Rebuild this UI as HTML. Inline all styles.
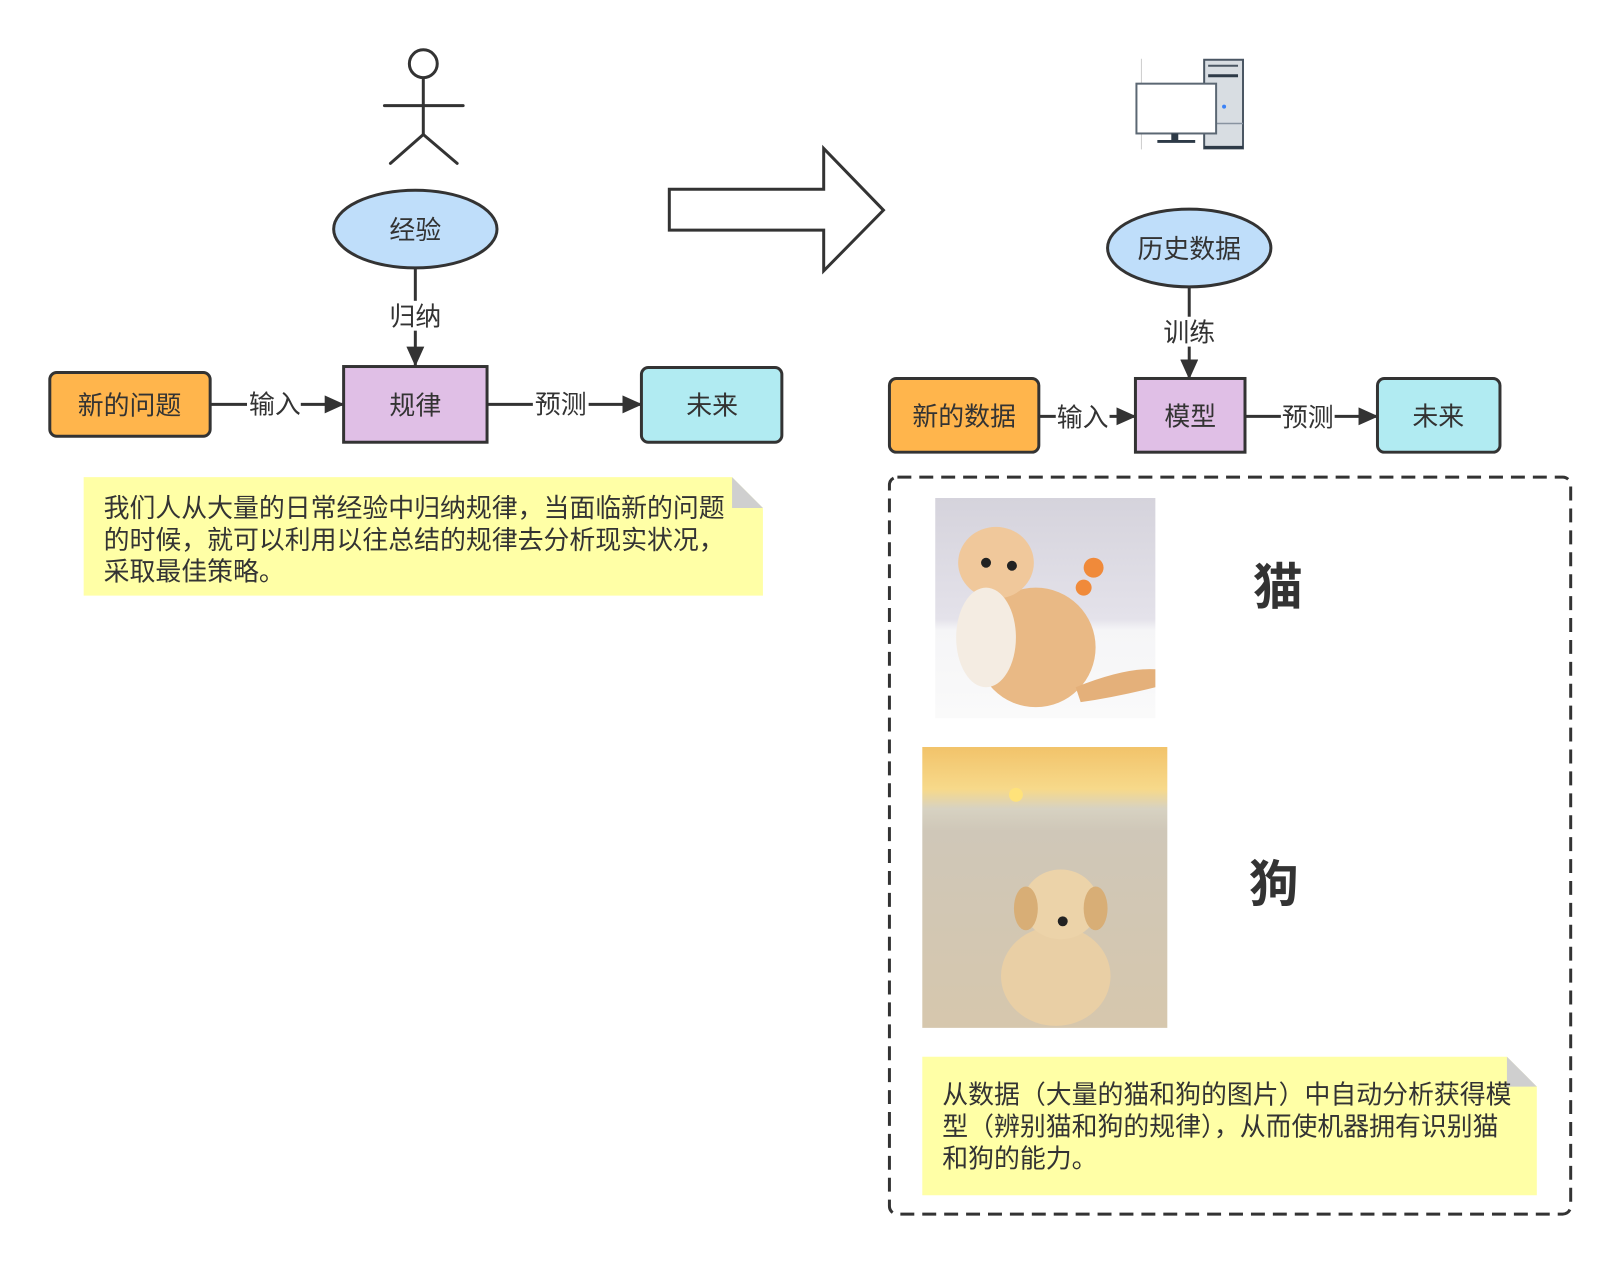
<!DOCTYPE html>
<html><head><meta charset="utf-8"><style>
body{margin:0;background:#fff;}
svg text{font-family:"Liberation Sans","Noto Sans CJK SC",sans-serif;fill:#333;}
</style></head><body>
<svg width="1619" height="1262" viewBox="0 0 1619 1262" xmlns="http://www.w3.org/2000/svg">
<defs>
<marker id="ah" markerWidth="20" markerHeight="18" refX="19" refY="9" orient="auto" markerUnits="userSpaceOnUse"><path d="M0,0 L20,9 L0,18 z" fill="#333"/></marker>
<linearGradient id="sky" x1="0" y1="0" x2="0" y2="1"><stop offset="0" stop-color="#f2c36a"/><stop offset="0.15" stop-color="#f7d98a"/><stop offset="0.22" stop-color="#d7d2c2"/><stop offset="0.3" stop-color="#cfc7b8"/><stop offset="1" stop-color="#d6c7ad"/></linearGradient>
<linearGradient id="catbg" x1="0" y1="0" x2="0" y2="1"><stop offset="0" stop-color="#d5d3dc"/><stop offset="0.55" stop-color="#e4e2ea"/><stop offset="0.6" stop-color="#f5f5f7"/><stop offset="1" stop-color="#fafafa"/></linearGradient>
</defs>
<g transform="scale(0.996)">
<g stroke="#333" stroke-width="3" fill="none" stroke-linecap="round">
<circle cx="425" cy="64" r="14"/>
<line x1="386" y1="106" x2="465" y2="106"/>
<line x1="425" y1="78" x2="425" y2="135"/>
<line x1="425" y1="135" x2="392" y2="164"/>
<line x1="425" y1="135" x2="459" y2="164"/>
</g>
<ellipse cx="417" cy="230" rx="82" ry="39" fill="#bfdefa" stroke="#333" stroke-width="3"/>
<text x="417" y="240" font-size="26" text-anchor="middle">经验</text>
<line x1="417" y1="269" x2="417" y2="367" stroke="#333" stroke-width="3" marker-end="url(#ah)"/>
<rect x="393" y="302" width="49" height="30" fill="#fff"/>
<text x="417" y="327" font-size="26" text-anchor="middle">归纳</text>
<rect x="50" y="374" width="161" height="64" rx="7" fill="#ffb54c" stroke="#333" stroke-width="3"/>
<text x="130" y="416" font-size="26" text-anchor="middle">新的问题</text>
<rect x="345" y="368" width="144" height="76" fill="#e0bfe6" stroke="#333" stroke-width="3"/>
<text x="417" y="416" font-size="26" text-anchor="middle">规律</text>
<rect x="644" y="369" width="141" height="75" rx="7" fill="#b1ebf2" stroke="#333" stroke-width="3"/>
<text x="715" y="416" font-size="26" text-anchor="middle">未来</text>
<line x1="211" y1="406" x2="345" y2="406" stroke="#333" stroke-width="3" marker-end="url(#ah)"/>
<line x1="489" y1="406" x2="644" y2="406" stroke="#333" stroke-width="3" marker-end="url(#ah)"/>
<rect x="248" y="390" width="54" height="30" fill="#fff"/>
<text x="276" y="415" font-size="26" text-anchor="middle">输入</text>
<rect x="535" y="390" width="56" height="30" fill="#fff"/>
<text x="563" y="415" font-size="26" text-anchor="middle">预测</text>
<path d="M84,479 H735 L766,510 V598 H84 z" fill="#ffffa6"/>
<path d="M735,479 L766,510 H735 z" fill="#cfcfcf"/>
<text font-size="26"><tspan x="104" y="519">我们人从大量的日常经验中归纳规律，当面临新的问题</tspan><tspan x="104" y="551">的时候，就可以利用以往总结的规律去分析现实状况，</tspan><tspan x="104" y="583">采取最佳策略。</tspan></text>
<path d="M672,190 H827 V149 L887,211 L827,272 V231 H672 z" fill="#fff" stroke="#333" stroke-width="3" stroke-linejoin="miter"/>
<g transform="translate(5,0)">
<line x1="1141" y1="59" x2="1141" y2="150" stroke="#ccc" stroke-width="1"/>
<rect x="1204" y="60" width="39" height="89" fill="#d8dde2" stroke="#4a5663" stroke-width="2"/>
<line x1="1208" y1="66" x2="1238" y2="66" stroke="#4a5663" stroke-width="2"/>
<line x1="1208" y1="76" x2="1238" y2="76" stroke="#2d3a47" stroke-width="3"/>
<line x1="1204" y1="124" x2="1243" y2="124" stroke="#8893a0" stroke-width="1.5"/>
<line x1="1204" y1="148" x2="1243" y2="148" stroke="#2d3a47" stroke-width="3"/>
<circle cx="1224" cy="107" r="2" fill="#3b82f6"/>
<rect x="1136" y="84" width="80" height="50" fill="#fff" stroke="#5b6773" stroke-width="2"/>
<rect x="1171" y="134" width="7" height="7" fill="#2d3a47"/>
<line x1="1157" y1="142" x2="1195" y2="142" stroke="#2d3a47" stroke-width="3"/>
</g>
<ellipse cx="1194" cy="249" rx="82" ry="39" fill="#bfdefa" stroke="#333" stroke-width="3"/>
<text x="1194" y="259" font-size="26" text-anchor="middle">历史数据</text>
<line x1="1194" y1="288" x2="1194" y2="380" stroke="#333" stroke-width="3" marker-end="url(#ah)"/>
<rect x="1168" y="318" width="52" height="30" fill="#fff"/>
<text x="1194" y="343" font-size="26" text-anchor="middle">训练</text>
<rect x="893" y="380" width="150" height="74" rx="7" fill="#ffb54c" stroke="#333" stroke-width="3"/>
<text x="968" y="427" font-size="26" text-anchor="middle">新的数据</text>
<rect x="1140" y="380" width="110" height="74" fill="#e0bfe6" stroke="#333" stroke-width="3"/>
<text x="1195" y="427" font-size="26" text-anchor="middle">模型</text>
<rect x="1383" y="380" width="123" height="74" rx="7" fill="#b1ebf2" stroke="#333" stroke-width="3"/>
<text x="1444" y="427" font-size="26" text-anchor="middle">未来</text>
<line x1="1043" y1="418" x2="1140" y2="418" stroke="#333" stroke-width="3" marker-end="url(#ah)"/>
<line x1="1250" y1="418" x2="1383" y2="418" stroke="#333" stroke-width="3" marker-end="url(#ah)"/>
<rect x="1060" y="403" width="54" height="30" fill="#fff"/>
<text x="1087" y="428" font-size="26" text-anchor="middle">输入</text>
<rect x="1286" y="403" width="54" height="30" fill="#fff"/>
<text x="1313" y="428" font-size="26" text-anchor="middle">预测</text>
<rect x="893" y="479" width="684" height="740" rx="8" fill="none" stroke="#333" stroke-width="3" stroke-dasharray="14 8"/>
<rect x="939" y="500" width="221" height="221" fill="url(#catbg)"/>
<ellipse cx="1040" cy="650" rx="60" ry="60" fill="#e9b985"/>
<ellipse cx="1000" cy="565" rx="38" ry="36" fill="#f0c89b"/>
<ellipse cx="990" cy="640" rx="30" ry="50" fill="#f4ece2"/>
<path d="M1080,690 Q1130,670 1160,672 L1160,690 Q1120,700 1085,705z" fill="#e4b07a"/>
<circle cx="1098" cy="570" r="10" fill="#f08a3a"/><circle cx="1088" cy="590" r="8" fill="#f08a3a"/>
<circle cx="990" cy="565" r="5" fill="#222"/><circle cx="1016" cy="568" r="5" fill="#222"/>
<text x="1283" y="607" font-size="50" font-weight="bold" text-anchor="middle">猫</text>
<rect x="926" y="750" width="246" height="282" fill="url(#sky)"/>
<circle cx="1020" cy="798" r="7" fill="#ffe27a"/>
<ellipse cx="1060" cy="980" rx="55" ry="50" fill="#e9cfa5"/>
<ellipse cx="1065" cy="908" rx="38" ry="35" fill="#ecd3a9"/>
<ellipse cx="1030" cy="912" rx="12" ry="22" fill="#d8ae76"/><ellipse cx="1100" cy="912" rx="12" ry="22" fill="#d8ae76"/>
<circle cx="1067" cy="925" r="5" fill="#222"/>
<text x="1279" y="905" font-size="50" font-weight="bold" text-anchor="middle">狗</text>
<path d="M926,1061 H1513 L1543,1091 V1200 H926 z" fill="#ffffa6"/>
<path d="M1513,1061 L1543,1091 H1513 z" fill="#cfcfcf"/>
<text font-size="26"><tspan x="946" y="1108">从数据（大量的猫和狗的图片）中自动分析获得模</tspan><tspan x="946" y="1140">型（辨别猫和狗的规律），从而使机器拥有识别猫</tspan><tspan x="946" y="1172">和狗的能力。</tspan></text>
</g>
</svg>
</body></html>
